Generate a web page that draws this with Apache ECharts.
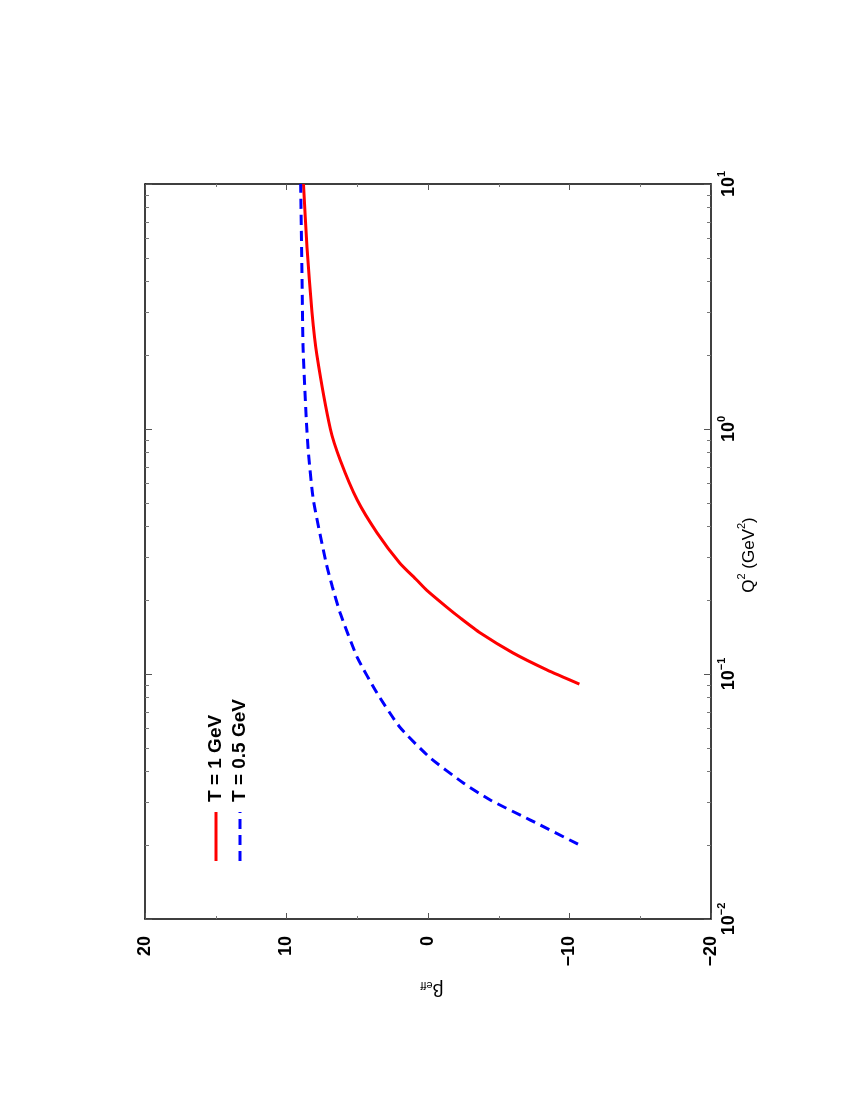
<!DOCTYPE html>
<html>
<head>
<meta charset="utf-8">
<script src="https://cdn.jsdelivr.net/npm/echarts@6/dist/echarts.min.js"></script>
<style>
    body { margin: 0; background: #fff; }
    #main { width: 850px; height: 1100px; }
</style>
</head>
<body>
<div id="main"></div>
<script>
var q2Red = [0.091, 0.104, 0.122, 0.147, 0.169, 0.188, 0.220, 0.242, 0.284, 0.377, 0.513, 0.746, 1.0, 2.0, 3.0, 5.5, 10];
var betaRed = [-10.7, -8.4, -6.0, -3.7, -2.3, -1.3, 0.1, 0.8, 2.0, 3.6, 5.0, 6.2, 6.9, 7.85, 8.2, 8.55, 8.8];

var q2Blue = [0.0202, 0.0254, 0.0306, 0.0359, 0.0458, 0.0608, 0.0836, 0.117, 0.177, 0.226, 0.284, 0.513, 0.80, 1.09, 2.16, 4.06, 10];
var betaBlue = [-10.6, -7.2, -4.4, -2.5, -0.1, 2.0, 3.6, 5.0, 6.2, 6.75, 7.2, 8.1, 8.45, 8.6, 8.83, 8.9, 9.0];

var seriesNames = ['T = 1 GeV', 'T = 0.5 GeV'];
var decadeExps = [-2, -1, 0, 1];
var minorMults = [2, 3, 4, 5, 6, 7, 8, 9];

var font = 'Liberation Sans';

function toPoints(q2, beta) {
    var pts = [];
    for (var i = 0; i < q2.length; i++) {
        pts.push([beta[i], Math.log10(q2[i])]);
    }
    return pts;
}

// log10 positions of the minor ticks 2..9 in each decade
var minorTickVals = [];
for (var d = 0; d < decadeExps.length - 1; d++) {
    for (var m = 0; m < minorMults.length; m++) {
        minorTickVals.push(decadeExps[d] + Math.log10(minorMults[m]));
    }
}

var lineStyleAxis = { color: '#000', width: 1.5 };

function betaAxis(pos, showLabel) {
    return {
        type: 'value',
        position: pos,
        min: -20,
        max: 20,
        interval: 10,
        inverse: true,
        axisLine: { show: true, onZero: false, lineStyle: lineStyleAxis },
        axisTick: { show: true, inside: true, length: 6, lineStyle: { color: '#555', width: 1 } },
        minorTick: { show: true, splitNumber: 2, length: 3, lineStyle: { color: '#777', width: 1 } },
        splitLine: { show: false },
        axisLabel: {
            show: showLabel,
            rotate: 90,
            margin: 17,
            color: '#000',
            fontFamily: font,
            fontWeight: 'bold',
            fontSize: 18,
            formatter: function (v) {
                return v < 0 ? '\u2212' + (-v) : String(v);
            }
        }
    };
}

function q2Axis(pos, minor, showLabel) {
    return {
        type: 'value',
        position: pos,
        min: -2,
        max: 1,
        interval: 1,
        axisLine: { show: !minor, onZero: false, lineStyle: lineStyleAxis },
        axisTick: minor ? {
            show: true, inside: true, length: 4,
            customValues: minorTickVals,
            lineStyle: { color: '#777', width: 1 }
        } : {
            show: true, inside: true, length: 7,
            lineStyle: { color: '#555', width: 1 }
        },
        splitLine: { show: false },
        axisLabel: {
            show: showLabel,
            rotate: 90,
            margin: 5,
            color: '#000',
            fontFamily: font,
            formatter: function (v) {
                var e = v < 0 ? '\u2212' + (-v) : String(v);
                return '{b|10}{s|' + e + '}';
            },
            rich: {
                b: { fontFamily: font, fontWeight: 'bold', fontSize: 18, lineHeight: 22, verticalAlign: 'bottom', color: '#000' },
                s: { fontFamily: font, fontWeight: 'bold', fontSize: 11, lineHeight: 22, verticalAlign: 'top', color: '#000' }
            }
        }
    };
}

var option = {
    backgroundColor: '#fff',
    animation: false,
    grid: { left: 145, right: 139, top: 184, bottom: 181 },
    xAxis: [betaAxis('bottom', true), betaAxis('top', false)],
    yAxis: [
        q2Axis('right', false, true),
        q2Axis('right', true, false),
        q2Axis('left', false, false),
        q2Axis('left', true, false)
    ],
    series: [{
        name: seriesNames[0],
        type: 'line',
        showSymbol: false,
        smooth: 0.2,
        lineStyle: { color: '#ff0000', width: 3 },
        data: toPoints(q2Red, betaRed)
    }, {
        name: seriesNames[1],
        type: 'line',
        showSymbol: false,
        smooth: 0.2,
        lineStyle: { color: '#0000ff', width: 3, type: [10, 6] },
        data: toPoints(q2Blue, betaBlue)
    }],
    graphic: [
        // legend (rotated like the rest of the page)
        { type: 'line', shape: { x1: 216, y1: 861, x2: 216, y2: 812 }, style: { stroke: '#ff0000', lineWidth: 3 } },
        { type: 'line', shape: { x1: 240, y1: 861, x2: 240, y2: 812 }, style: { stroke: '#0000ff', lineWidth: 3, lineDash: [10, 6] } },
        {
            type: 'text', x: 216, y: 802, rotation: Math.PI / 2,
            style: { text: seriesNames[0], fill: '#000', fontFamily: font, fontWeight: 'bold', fontSize: 19, textAlign: 'left', textVerticalAlign: 'middle' }
        },
        {
            type: 'text', x: 240, y: 802, rotation: Math.PI / 2,
            style: { text: seriesNames[1], fill: '#000', fontFamily: font, fontWeight: 'bold', fontSize: 19, textAlign: 'left', textVerticalAlign: 'middle' }
        },
        // axis titles
        {
            type: 'text', x: 747, y: 555, rotation: Math.PI / 2,
            style: {
                text: '{n|Q}{s|2}{n| (GeV}{s|2}{n|)}',
                textAlign: 'center', textVerticalAlign: 'middle',
                rich: {
                    n: { fontFamily: font, fontSize: 17, lineHeight: 22, verticalAlign: 'bottom', fill: '#000' },
                    s: { fontFamily: font, fontSize: 11, lineHeight: 22, verticalAlign: 'top', fill: '#000' }
                }
            }
        },
        {
            type: 'text', x: 432, y: 990, rotation: Math.PI,
            style: {
                text: '{n|\u03b2}{s|eff}',
                textAlign: 'center', textVerticalAlign: 'middle',
                rich: {
                    n: { fontFamily: font, fontSize: 19, lineHeight: 20, verticalAlign: 'bottom', fill: '#000' },
                    s: { fontFamily: font, fontSize: 11, lineHeight: 20, verticalAlign: 'bottom', fill: '#000' }
                }
            }
        }
    ]
};

var myChart = echarts.init(document.getElementById('main'));
myChart.setOption(option);
</script>
</body>
</html>
